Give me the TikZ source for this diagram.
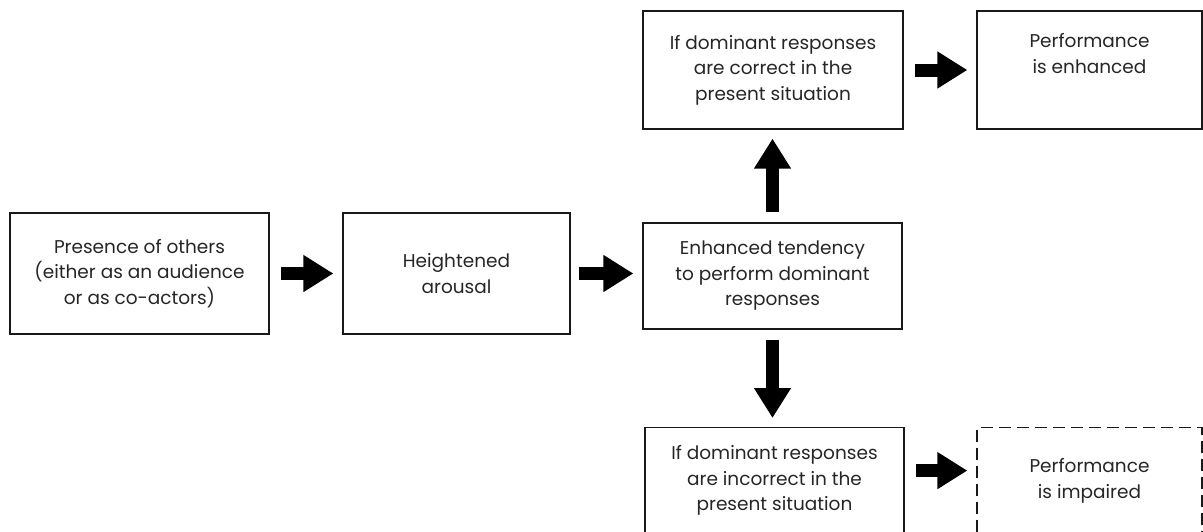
\documentclass[tikz,border=0pt]{standalone}
\usepackage{fontspec}
\setmainfont{Poppins}
\usetikzlibrary{arrows.meta}
\tikzset{
  box/.style={draw=black!90, line width=1.2pt, align=center, inner sep=0pt,
    font=\fontsize{18.5}{25.5}\selectfont, text=black!85},
  dbox/.style={box, dash pattern=on 12pt off 6pt},
  blk/.style={line width=13pt, -{Triangle[length=30pt,width=35pt]},
    shorten <=11pt, shorten >=9pt},
}
\begin{document}
\begin{tikzpicture}[x=1pt,y=-1pt]
\useasboundingbox (0,0) rectangle (1203,531);
\clip (0,0) rectangle (1203,531);
\node[box, minimum width=259pt, minimum height=121pt] (A) at (139.5,273.5)
  {Presence of others\\(either as an audience\\or as co-actors)};
\node[box, minimum width=227pt, minimum height=121pt] (B) at (456.5,273.5)
  {Heightened\\arousal};
\node[box, minimum width=259pt, minimum height=106pt] (C) at (772.5,276)
  {Enhanced tendency\\to perform dominant\\responses};
\node[box, minimum width=260pt, minimum height=118pt] (D) at (773,70)
  {If dominant responses\\are correct in the\\present situation};
% two lines set in the upper part of a three-line space
\node[box, minimum width=225pt, minimum height=118pt] (E) at (1089.5,70)
  {Performance\\is enhanced\\\strut};
\node[box, minimum width=259pt, minimum height=106pt, anchor=north] (F) at (774.5,427)
  {If dominant responses\\are incorrect in the\\present situation};
\node[dbox, minimum width=225pt, minimum height=106pt, anchor=north] (G) at (1089.5,427)
  {Performance\\is impaired};
% block arrows between the stages
\draw[blk] (A.east) -- (B.west);
\draw[blk, shorten <=8pt] (B.east) -- (B.east -| C.west);
\draw[blk, shorten <=10pt] (C.north) -- (C.north |- D.south);
\draw[blk, shorten <=10pt] (C.south) -- (C.south |- F.north);
\draw[blk] (D.east) -- (E.west);
\draw[blk] ([yshift=10pt]F.east) -- ([yshift=10pt]F.east -| G.west);
\end{tikzpicture}
\end{document}
